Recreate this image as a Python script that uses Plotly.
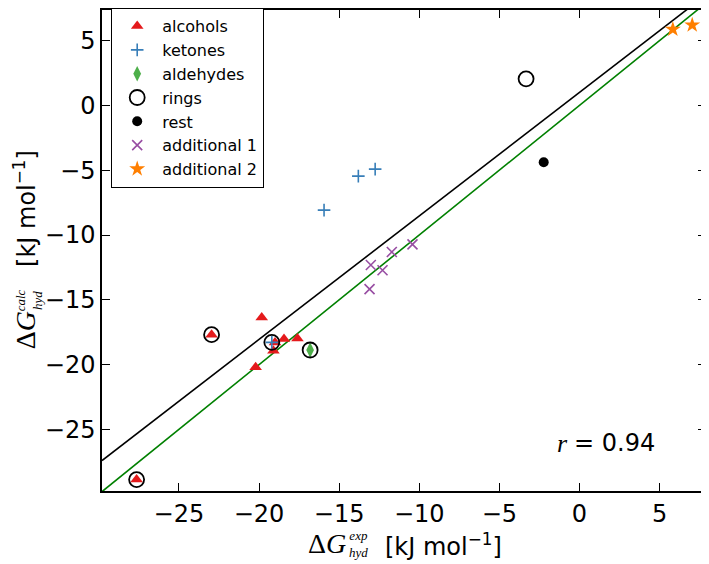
import plotly.graph_objects as go

# hydration free energies, kJ/mol: experiment (x) vs calculation (y)
alcohols_x = [-27.64, -22.96, -19.83, -20.21, -19.10, -19.00, -18.44, -17.60]
alcohols_y = [-28.87, -17.69, -16.36, -20.20, -18.92, -18.30, -18.02, -17.98]
ketones_x = [-19.20, -15.94, -13.80, -12.75]
ketones_y = [-18.28, -8.08, -5.46, -4.92]
aldehydes_x = [-16.81]
aldehydes_y = [-18.87]
rings_x = [-27.64, -22.96, -19.20, -16.81, -3.33]
rings_y = [-28.87, -17.69, -18.28, -18.87, 2.05]
rest_x = [-2.23]
rest_y = [-4.38]
add1_x = [-13.10, -13.02, -12.29, -11.71, -10.42]
add1_y = [-14.18, -12.31, -12.72, -11.31, -10.72]
add2_x = [5.83, 7.04]
add2_y = [5.87, 6.20]

fit_slope = 0.953
fit_intercept = 1.0
r_value = 0.94

x_range = [-29.8, 7.9]
y_range = [-29.75, 7.36]

# the page body has an 8px margin, so the figure is drawn 8px in from the corner
OFF = 8
W, H = 701, 556
L, R, T, B = 94, 3, 1, 73


def px_x(px):
    return (px - OFF - L) / (W - L - R)


def px_y(py):
    return 1 - (py - OFF - T) / (H - T - B)


fig = go.Figure()

# y = x and linear fit
fig.add_trace(go.Scatter(x=x_range, y=x_range, mode="lines",
                         line=dict(color="green", width=1.6), showlegend=False))
fig.add_trace(go.Scatter(x=x_range, y=[fit_slope * v + fit_intercept for v in x_range],
                         mode="lines", line=dict(color="black", width=1.6), showlegend=False))

series = [
    ("alcohols", alcohols_x, alcohols_y, dict(symbol="triangle-up", size=11, color="#e41a1c")),
    ("ketones", ketones_x, ketones_y, dict(symbol="cross-thin", size=9, color="#377eb8",
                                           line=dict(color="#377eb8", width=1.6))),
    ("aldehydes", aldehydes_x, aldehydes_y, dict(symbol="diamond-tall", size=11, color="#4daf4a")),
    ("rings", rings_x, rings_y, dict(symbol="circle-open", size=15, color="black",
                                     line=dict(color="black", width=1.8))),
    ("rest", rest_x, rest_y, dict(symbol="circle", size=10, color="black")),
    ("additional 1", add1_x, add1_y, dict(symbol="x-thin", size=10, color="#984ea3",
                                          line=dict(color="#984ea3", width=1.6))),
    ("additional 2", add2_x, add2_y, dict(symbol="star", size=12, color="#ff7f00")),
]
for name, xs, ys, mk in series:
    fig.add_trace(go.Scatter(x=xs, y=ys, mode="markers", name=name, marker=mk))

SERIF = "Liberation Serif"
SANS = "DejaVu Sans"


def note(text, x, y, size, family=SANS, xa="center", ya="middle", angle=0):
    fig.add_annotation(text=text, x=x, y=y, xref="paper", yref="paper",
                       xanchor=xa, yanchor=ya, textangle=angle, showarrow=False,
                       font=dict(size=size, family=family, color="black"))


note("<i>r</i>", px_x(555), px_y(443), 26, SERIF, xa="left")
note(f"= {r_value:.2f}", px_x(572), px_y(443), 24, xa="left")

# x axis title: ΔG_hyd^exp [kJ mol^-1], sup and sub stacked as two small lines
note("Δ<i>G</i>", px_x(348), px_y(544), 28, SERIF, xa="right")
note("<i>exp</i><br><i>hyd</i>", px_x(347), px_y(544), 13, SERIF, xa="left")
note("[kJ mol<sup>−1</sup>]", px_x(383), px_y(545), 24, xa="left")

# y axis title: ΔG_hyd^calc [kJ mol^-1]
note("Δ<i>G</i>", px_x(25), px_y(351), 28, SERIF, ya="bottom", angle=-90)
note("<i>calc</i><br><i>hyd</i>", px_x(29), px_y(313), 13, SERIF, ya="bottom", angle=-90)
note("[kJ mol<sup>−1</sup>]", px_x(25), px_y(268), 24, ya="bottom", angle=-90)

axis_common = dict(
    showline=True, linecolor="black", linewidth=1.5, mirror="ticks",
    ticks="inside", ticklen=8, tickwidth=1.2, tickcolor="black",
    showgrid=False, zeroline=False, dtick=5, tick0=0, automargin=False,
    tickfont=dict(size=24, color="black", family=SANS),
)

fig.update_layout(
    width=W, height=H,
    margin=dict(l=L, r=R, t=T, b=B),
    plot_bgcolor="white", paper_bgcolor="white",
    font=dict(family=SANS, color="black"),
    xaxis=dict(range=x_range, **axis_common),
    yaxis=dict(range=y_range, **axis_common),
    legend=dict(x=px_x(111), y=px_y(8), xanchor="left", yanchor="top",
                bordercolor="black", borderwidth=1.2, bgcolor="white",
                font=dict(size=16, color="black"), tracegroupgap=0,
                itemwidth=40),
)

fig.write_html("out.html")
